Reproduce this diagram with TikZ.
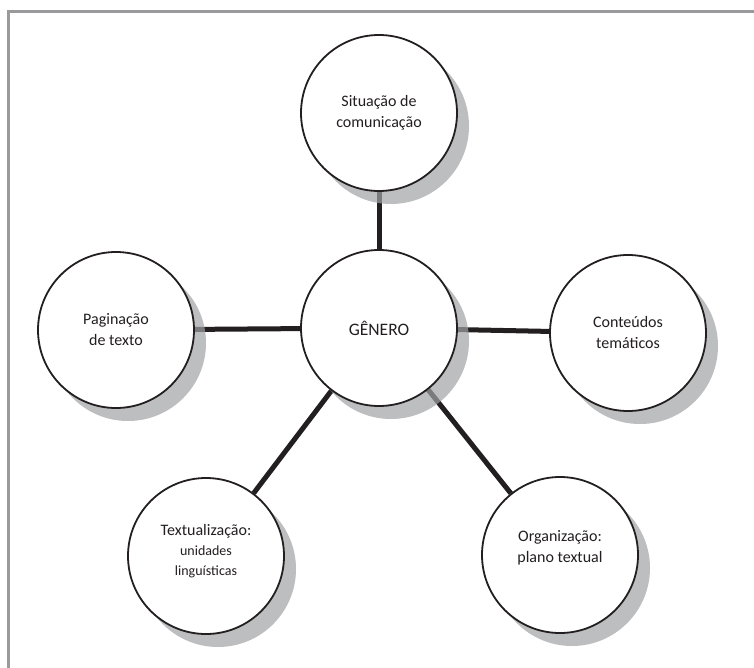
\documentclass[tikz,border=0pt]{standalone}
\usepackage{fontspec}
\setmainfont{Carlito}
\definecolor{ink}{HTML}{231F20}
\definecolor{shade}{RGB}{161,162,165}
\definecolor{framec}{HTML}{9A9A9C}
\pgfdeclarelayer{lines}
\pgfdeclarelayer{shadows}
\pgfsetlayers{lines,shadows,main}
\tikzset{
  circ/.style={circle, draw=ink, line width=1.8pt, fill=white, minimum size=156pt, inner sep=0pt,
               align=center, text=ink, font=\fontsize{16}{21}\selectfont},
  lbl/.style={align=center, text=ink, inner sep=0pt, font=\fontsize{16}{21}\selectfont},
  conn/.style={draw=ink, line width=5pt},
  shadowc/.style={fill=shade, opacity=0.7},
  framel/.style={draw=framec, line width=2.6pt}
}
\begin{document}
\begin{tikzpicture}[x=1pt, y=-1pt]
\useasboundingbox (0,0) rectangle (754,668);
\draw[framel] (8.3,668) -- (8.3,11.4) -- (754,11.4);

\node[circ] (sit) at (379,113) {Situação de\\comunicação};
\node[circ, font=\fontsize{17.5}{21}\selectfont] (gen) at (379,328) {GÊNERO};
\node[circ] (pag) at (116,330) {Paginação\\de texto};
\node[circ] (con) at (628,333) {Conteúdos\\temáticos};
\node[circ] (tex) at (206,556) {};
\node[circ] (org) at (560,555) {};
\node[lbl] (texl) at (206,551.5) {Textualização:\\[-1pt]{\fontsize{14}{20}\selectfont unidades}\\[-1pt]{\fontsize{14}{20}\selectfont linguísticas}};
\node[lbl] (orgl) at (560,547.5) {Organização:\\plano textual};

\begin{pgfonlayer}{shadows}
  \foreach \n in {sit,gen,pag,con,tex,org}
    \fill[shadowc] ([shift={(12,13)}]\n.center) circle [radius=78pt];
\end{pgfonlayer}

\begin{pgfonlayer}{lines}
  \draw[conn] (gen) -- (sit);
  \draw[conn] (gen) -- (pag);
  \draw[conn] (gen) -- (con);
  \draw[conn] (gen) -- (tex);
  \draw[conn] (gen) -- (org);
\end{pgfonlayer}
\end{tikzpicture}
\end{document}
